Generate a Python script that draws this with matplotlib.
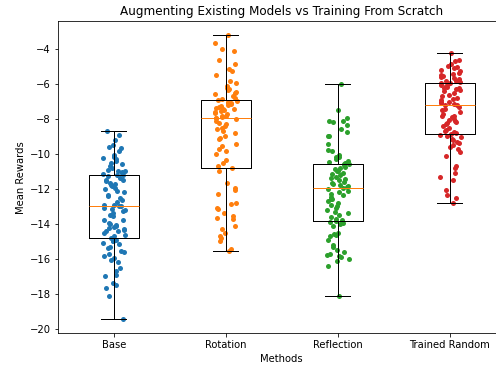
import numpy as np
import matplotlib
matplotlib.use('Agg')
import matplotlib.pyplot as plt

methods = ['Base', 'Rotation', 'Reflection', 'Trained Random']

base = [-8.71, -8.90, -9.22, -9.47, -9.60, -9.66, -9.85, -10.04, -10.10, -10.15,
        -10.23, -10.30, -10.42, -10.52, -10.60, -10.71, -10.80, -10.90, -10.95, -11.00,
        -11.05, -11.09, -11.13, -11.18, -11.20, -11.28, -11.40, -11.47, -11.50, -11.56,
        -11.66, -11.70, -11.75, -11.85, -11.94, -12.00, -12.13, -12.20, -12.33, -12.42,
        -12.50, -12.61, -12.76, -12.90, -12.90, -12.99, -13.00, -13.10, -13.14, -13.20,
        -13.28, -13.37, -13.50, -13.56, -13.75, -13.80, -13.94, -14.00, -14.04, -14.13,
        -14.20, -14.23, -14.30, -14.33, -14.40, -14.42, -14.52, -14.61, -14.70, -14.80,
        -14.90, -14.99, -15.00, -15.09, -15.18, -15.30, -15.37, -15.56, -15.60, -15.75,
        -15.85, -15.94, -16.04, -16.20, -16.50, -16.71, -16.90, -16.99, -17.37, -17.47,
        -17.66, -18.14, -19.45]

rotation = [-3.22, -3.64, -4.02, -4.12, -4.65, -4.88, -5.16, -5.26, -5.50, -5.83,
            -5.93, -6.10, -6.21, -6.31, -6.36, -6.44, -6.50, -6.59, -6.69, -6.78,
            -6.88, -6.90, -6.97, -7.00, -7.07, -7.10, -7.16, -7.20, -7.26, -7.30,
            -7.35, -7.40, -7.45, -7.50, -7.55, -7.60, -7.64, -7.74, -7.80, -7.83,
            -7.90, -7.93, -7.96, -8.02, -8.12, -8.21, -8.31, -8.40, -8.50, -8.59,
            -8.69, -8.78, -8.97, -9.07, -9.16, -9.45, -9.55, -9.74, -9.83, -10.02,
            -10.36, -10.50, -10.69, -10.82, -10.97, -11.64, -11.93, -12.08, -12.31, -12.78,
            -12.88, -13.07, -13.16, -13.35, -13.55, -13.64, -13.74, -14.12, -14.31, -14.50,
            -14.69, -14.78, -14.97, -15.45, -15.54]

reflection = [-5.98, -7.50, -7.97, -8.10, -8.12, -8.15, -8.35, -8.55, -8.72, -8.95,
              -9.00, -9.42, -9.75, -9.85, -10.05, -10.15, -10.20, -10.30, -10.38, -10.45,
              -10.50, -10.55, -10.60, -10.65, -10.72, -10.80, -10.88, -10.95, -11.00, -11.08,
              -11.15, -11.22, -11.30, -11.38, -11.45, -11.50, -11.58, -11.65, -11.72, -11.80,
              -11.85, -11.90, -11.93, -12.00, -12.10, -12.20, -12.30, -12.35, -12.45, -12.55,
              -12.60, -12.70, -12.80, -12.90, -13.00, -13.10, -13.20, -13.30, -13.40, -13.50,
              -13.60, -13.70, -13.78, -13.83, -13.90, -13.95, -14.00, -14.10, -14.50, -14.60,
              -14.65, -14.70, -14.90, -15.20, -15.35, -15.50, -15.60, -15.70, -15.80, -15.85,
              -15.90, -16.00, -16.10, -16.40, -18.15]

trained_random = [-4.23, -4.60, -4.70, -4.85, -4.95, -5.05, -5.10, -5.20, -5.25, -5.35,
                  -5.45, -5.50, -5.55, -5.60, -5.65, -5.70, -5.75, -5.80, -5.85, -5.90,
                  -5.93, -5.96, -6.00, -6.05, -6.10, -6.15, -6.20, -6.25, -6.30, -6.35,
                  -6.40, -6.50, -6.60, -6.70, -6.80, -6.85, -6.90, -7.00, -7.05, -7.10,
                  -7.15, -7.20, -7.22, -7.30, -7.40, -7.50, -7.60, -7.70, -7.80, -7.85,
                  -7.90, -8.00, -8.05, -8.10, -8.15, -8.20, -8.30, -8.40, -8.50, -8.60,
                  -8.70, -8.75, -8.80, -8.84, -8.90, -8.95, -9.05, -9.15, -9.20, -9.30,
                  -9.40, -9.50, -9.60, -9.70, -9.90, -10.10, -10.67, -10.80, -11.09, -11.32,
                  -11.47, -12.04, -12.33, -12.52, -12.80]

data = [base, rotation, reflection, trained_random]
colors = ['tab:blue', 'tab:orange', 'tab:green', 'tab:red']

fig = plt.figure(figsize=(496/72, 368/72), dpi=72)
# axes runs a bit past the right edge, like the reference crop
ax = fig.add_axes([57.7/496, 34.7/368, 448/496, 312/368])

for i, vals in enumerate(data):
    vals = np.array(vals)
    # sideways spread (hash based, so it looks scattered but is fixed)
    k = np.arange(len(vals)) + 100*i
    h = np.sin(k*12.9898 + 78.233) * 43758.5453
    jitter = ((h % 1) - 0.5) * 0.2
    ax.scatter(i + jitter, vals, s=25, color=colors[i], linewidths=0, zorder=1)

ax.boxplot(data, positions=range(4), tick_labels=methods, widths=0.45)
ax.set_xlim(-0.5, 3.5)

plt.title('Augmenting Existing Models vs Training From Scratch', fontsize=12)
plt.xlabel('Methods')
plt.ylabel('Mean Rewards')
fig.savefig('out.png', dpi=72)
